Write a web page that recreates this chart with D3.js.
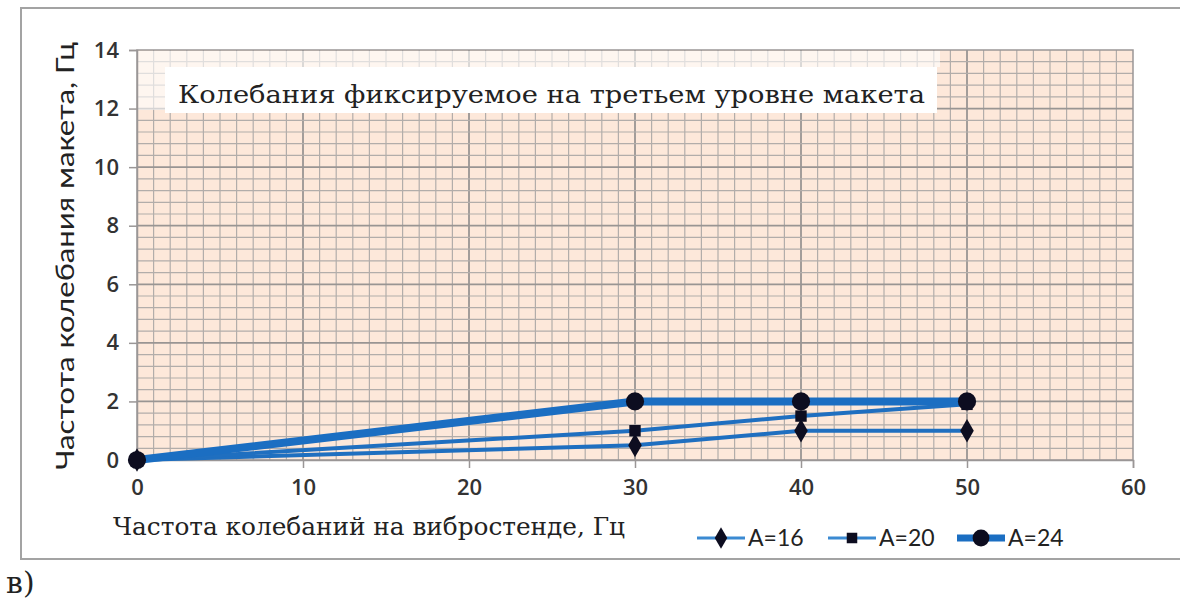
<!DOCTYPE html>
<html>
<head>
<meta charset="utf-8">
<script src="https://cdn.jsdelivr.net/npm/d3@7"></script>
<style>
  html, body { margin: 0; padding: 0; background: #fff; }
  svg { display: block; }
</style>
</head>
<body>
<script>
// values
const freqStand = [0, 30, 40, 50];
const a16 = [0, 0.5, 1.0, 1.0];
const a20 = [0, 1.0, 1.5, 1.9];
const a24 = [0, 2.0, 2.0, 2.0];
const seriesNames = ['A=16', 'A=20', 'A=24'];
const xTicks = [0, 10, 20, 30, 40, 50, 60];
const yTicks = [0, 2, 4, 6, 8, 10, 12, 14];

const W = 1180, H = 601;
const svg = d3.select('body').append('svg').attr('width', W).attr('height', H);

const x = d3.scaleLinear().domain([0, 60]).range([137, 1133]);
const y = d3.scaleLinear().domain([0, 14]).range([460, 50]);

const sans = 'Lato, "Open Sans", sans-serif';
const serif = '"DejaVu Serif", "Liberation Serif", serif';

// outer frame
svg.append('rect')
    .attr('x', 21).attr('y', 8).attr('width', 1180).attr('height', 551)
    .attr('fill', '#fff').attr('stroke', '#a3a3a3').attr('stroke-width', 2);

// plot background
svg.append('rect')
    .attr('x', x(0)).attr('y', y(14)).attr('width', x(60) - x(0)).attr('height', y(0) - y(14))
    .attr('fill', '#fde8da');

const grid = svg.append('g');
// minor grid, darker every 10 / every 2
grid.selectAll('line.vx').data(d3.range(1, 60)).join('line')
    .attr('x1', d => x(d)).attr('x2', d => x(d))
    .attr('y1', y(14)).attr('y2', y(0))
    .attr('stroke', d => d % 10 === 0 ? '#999593' : '#b2adaa')
    .attr('stroke-width', d => d % 10 === 0 ? 1.8 : 1.2);
grid.selectAll('line.hy').data(d3.range(1, 35).map(i => i * 0.4)).join('line')
    .attr('y1', d => y(d)).attr('y2', d => y(d))
    .attr('x1', x(0)).attr('x2', x(60))
    .attr('stroke', (d, i) => (i + 1) % 5 === 0 ? '#999593' : '#b2adaa')
    .attr('stroke-width', (d, i) => (i + 1) % 5 === 0 ? 1.8 : 1.2);

// faded strip around the title box
svg.append('path')
    .attr('d', `M${x(0) + 1},${y(14) + 1}H940V67H165V110H${x(0) + 1}Z`)
    .attr('fill', '#fff').attr('opacity', 0.6);
svg.append('rect')
    .attr('x', 165).attr('y', 67).attr('width', 772).attr('height', 46)
    .attr('fill', '#fff');
svg.append('text')
    .attr('x', 178).attr('y', 103)
    .attr('font-family', serif)
    .attr('font-size', 25).attr('fill', '#222')
    .attr('textLength', 747).attr('lengthAdjust', 'spacingAndGlyphs')
    .text('Колебания фиксируемое  на третьем уровне макета');

// plot border
svg.append('rect')
    .attr('x', x(0)).attr('y', y(14)).attr('width', x(60) - x(0)).attr('height', y(0) - y(14))
    .attr('fill', 'none').attr('stroke', '#9a9696').attr('stroke-width', 1.5);

// axes
const xAxis = svg.append('g').attr('transform', `translate(0,${y(0)})`)
    .call(d3.axisBottom(x).tickValues(xTicks).tickSize(8).tickPadding(11));
const yAxis = svg.append('g').attr('transform', `translate(${x(0)},0)`)
    .call(d3.axisLeft(y).tickValues(yTicks).tickSize(8).tickPadding(10));
[xAxis, yAxis].forEach(a => {
    a.select('.domain').attr('stroke', '#9a9696').attr('stroke-width', 1.5);
    a.selectAll('.tick line').attr('stroke', '#9a9696').attr('stroke-width', 1.5);
    a.selectAll('.tick text').attr('font-family', '"Open Sans", sans-serif').attr('font-size', 22)
        .attr('font-weight', 600).attr('fill', '#333');
});

svg.append('text')
    .attr('x', 113).attr('y', 535)
    .attr('font-family', serif)
    .attr('font-size', 24).attr('fill', '#222')
    .attr('textLength', 512).attr('lengthAdjust', 'spacingAndGlyphs')
    .text('Частота колебаний на вибростенде, Гц');

svg.append('text')
    .attr('transform', 'translate(74,470) rotate(-90)')
    .attr('font-family', sans).attr('font-size', 25).attr('fill', '#222')
    .attr('textLength', 428).attr('lengthAdjust', 'spacingAndGlyphs')
    .text('Частота колебания макета, Гц');

// series
const series = [
    { name: seriesNames[0], vals: a16, width: 4, color: '#1f6fc0', marker: d3.symbolDiamond, size: 160 },
    { name: seriesNames[1], vals: a20, width: 4, color: '#1f6fc0', marker: d3.symbolSquare, size: 130 },
    { name: seriesNames[2], vals: a24, width: 8, color: '#1b6ec2', marker: d3.symbolCircle, size: 260 }
];

const line = d3.line().x(d => x(d[0])).y(d => y(d[1]));
const plot = svg.append('g');
series.forEach(s => {
    const pts = freqStand.map((f, i) => [f, s.vals[i]]);
    plot.append('path').attr('d', line(pts))
        .attr('fill', 'none').attr('stroke', s.color).attr('stroke-width', s.width)
        .attr('stroke-linejoin', 'round');
});
series.forEach(s => {
    const pts = freqStand.map((f, i) => [f, s.vals[i]]);
    plot.selectAll(null).data(pts).join('path')
        .attr('transform', d => `translate(${x(d[0])},${y(d[1])})`)
        .attr('d', d3.symbol().type(s.marker).size(s.size))
        .attr('fill', '#0d0d20');
});

// legend
const legX = [697, 828, 957];
const leg = svg.append('g').attr('transform', 'translate(0,538)');
series.forEach((s, i) => {
    const g = leg.append('g').attr('transform', `translate(${legX[i]},0)`);
    g.append('line').attr('x1', 0).attr('x2', 48)
        .attr('stroke', i === 2 ? s.color : '#3b8ad2').attr('stroke-width', i === 2 ? 7 : 3);
    g.append('path').attr('transform', 'translate(24,0)')
        .attr('d', d3.symbol().type(s.marker).size(s.size * 0.85)).attr('fill', '#0d0d20');
    g.append('text').attr('x', 51).attr('y', 8)
        .attr('font-family', sans).attr('font-size', 23).attr('fill', '#222')
        .text(s.name);
});

svg.append('text')
    .attr('x', 6).attr('y', 593)
    .attr('font-family', serif)
    .attr('font-size', 30).attr('fill', '#222')
    .text('в)');
</script>
</body>
</html>
